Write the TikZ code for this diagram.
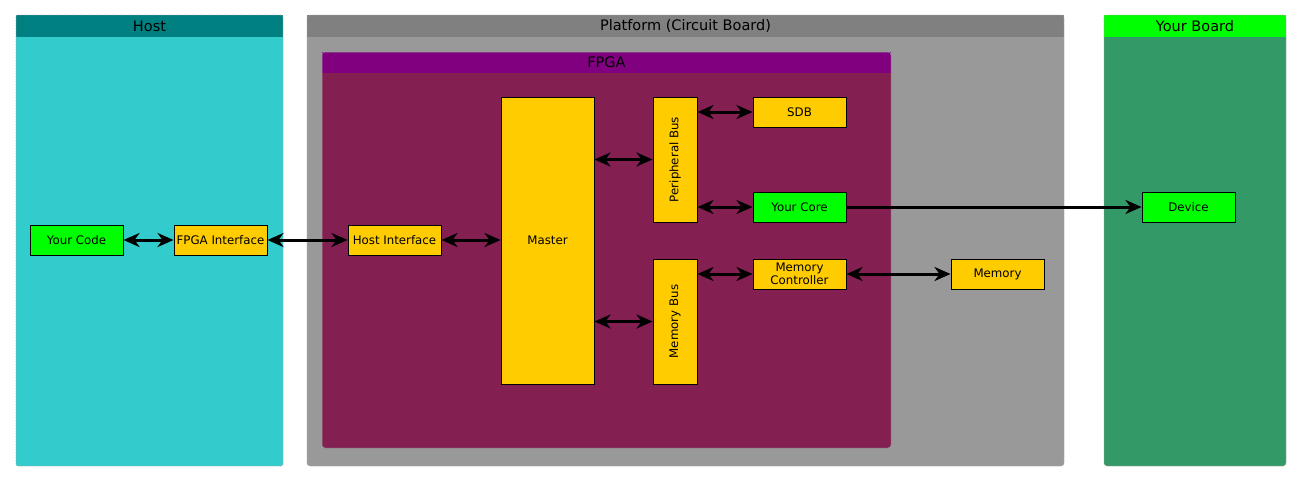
\documentclass[tikz,border=0pt]{standalone}
\usepackage{fontspec}
\setmainfont{DejaVu Sans}
\usetikzlibrary{arrows.meta}
\definecolor{hosthead}{RGB}{0,128,128}
\definecolor{hostbody}{RGB}{51,204,204}
\definecolor{plathead}{RGB}{128,128,128}
\definecolor{platbody}{RGB}{153,153,153}
\definecolor{boardhead}{RGB}{0,255,0}
\definecolor{boardbody}{RGB}{51,153,102}
\definecolor{fpgahead}{RGB}{128,0,128}
\definecolor{fpgabody}{RGB}{132,31,81}
\definecolor{ybox}{RGB}{255,204,0}
\definecolor{gbox}{RGB}{0,255,0}
\tikzset{
  nfont/.style={font=\fontsize{11.8}{13.5}\selectfont},
  box/.style={draw=black, line width=1pt, fill=ybox, inner sep=0pt, minimum width=93pt, minimum height=30pt, nfont, align=center},
  gboxs/.style={box, fill=gbox},
  bus/.style={box, minimum width=44pt, minimum height=125pt},
  arr/.style={line width=3pt, {Stealth[length=16pt,width=14pt,inset=5pt]}-{Stealth[length=16pt,width=14pt,inset=5pt]}},
  arrone/.style={line width=3pt, -{Stealth[length=16pt,width=14pt,inset=5pt]}},
  border/.style={draw=black!35, line width=0.6pt, densely dotted},
  htext/.style={font=\fontsize{14.5}{16}\selectfont, inner sep=0pt}
}
\begin{document}
\begin{tikzpicture}[x=1pt,y=-1pt]
\useasboundingbox (0,0) rectangle (1302,482);
% Host container
\fill[hostbody, rounded corners=2pt] (16,15) rectangle (283,466);
\fill[hosthead] (16,15) rectangle (283,37);
\draw[border, rounded corners=2pt] (16,15) rectangle (283,466);
\node[htext] (hostlbl) at (149.5,26) {Host};
% Platform container
\fill[platbody, rounded corners=3pt] (307,15) rectangle (1064,466);
\fill[plathead] (307,15) rectangle (1064,37);
\draw[border, rounded corners=3pt] (307,15) rectangle (1064,466);
\node[htext] (platlbl) at (685.5,26) {Platform (Circuit Board)};
% Your Board container
\fill[boardbody, rounded corners=3pt] (1104,15) rectangle (1286,466);
\fill[boardhead] (1104,15) rectangle (1286,37);
\draw[border, rounded corners=3pt] (1104,15) rectangle (1286,466);
\node[htext] (boardlbl) at (1195,26) {Your Board};
% FPGA container
\fill[fpgabody, rounded corners=3pt] (322,52) rectangle (891,448);
\fill[fpgahead] (322,52) rectangle (891,73);
\draw[draw=black!40, line width=0.5pt, rounded corners=3pt] (322,52) rectangle (891,448);
\node[htext] (fpgalbl) at (606.5,62.5) {FPGA};
% Nodes
\node[gboxs] (code) at (76.5,240) {Your Code};
\node[box] (fpgaif) at (220.5,240) {FPGA Interface};
\node[box] (hostif) at (394.5,240) {Host Interface};
\node[box, minimum height=287pt] (master) at (547.5,240.5) {Master};
\node[bus] (pb) at (675,159.5) {};
\node[rotate=90, nfont] (pblbl) at (pb) {Peripheral Bus};
\node[bus] (mb) at (675,321.5) {};
\node[rotate=90, nfont] (mblbl) at (mb) {Memory Bus};
\node[box] (sdb) at (799.5,112) {SDB};
\node[gboxs] (core) at (799.5,207) {Your Core};
\node[box] (mc) at (799.5,274) {Memory\\Controller};
\node[box] (mem) at (997.5,274) {Memory};
\node[gboxs] (dev) at (1188.5,207) {Device};
% Connectors
\draw[arr] (code.east) -- (fpgaif.west);
\draw[arr] (fpgaif.east) -- (hostif.west);
\draw[arr] (hostif.east) -- (master.west |- hostif);
\draw[arr] (master.east |- pb) -- (pb.west);
\draw[arr] (master.east |- mb) -- (mb.west);
\draw[arr] (pb.east |- sdb) -- (sdb.west);
\draw[arr] (pb.east |- core) -- (core.west);
\draw[arr] (mb.east |- mc) -- (mc.west);
\draw[arr] (mc.east) -- (mem.west);
\draw[arrone] (core.east) -- (dev.west);
\end{tikzpicture}
\end{document}
